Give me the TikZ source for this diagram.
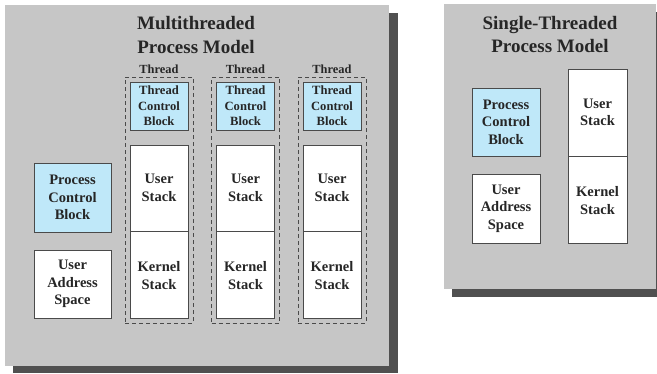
\documentclass[tikz,border=0pt]{standalone}
\usepackage{fontspec}
\setmainfont{Liberation Serif}
\definecolor{panelgray}{HTML}{C6C6C6}
\definecolor{shadowgray}{HTML}{505050}
\definecolor{linegray}{HTML}{4A4A4A}
\definecolor{pcbblue}{HTML}{BFE8F9}
\begin{document}
\begin{tikzpicture}[x=1pt, y=-1pt,
    box/.style={draw=linegray, line width=0.9pt, inner sep=0pt, align=center,
        font=\bfseries\fontsize{14.5}{17.5}\selectfont, text=black!85},
    pcbbox/.style={box, fill=pcbblue, minimum width=#1},
    membox/.style={box, fill=white, minimum width=#1},
    tcbbox/.style={box, fill=pcbblue, minimum width=58pt, minimum height=48pt,
        font=\bfseries\fontsize{12.6}{15.5}\selectfont},
    frame/.style={draw=linegray, dashed, dash pattern=on 4pt off 3pt, line width=0.7pt,
        minimum width=68pt, minimum height=246pt, inner sep=0pt},
    title/.style={align=center, font=\bfseries\fontsize{19}{23.5}\selectfont, text=black!85}]
    \useasboundingbox (0,0) rectangle (657,373);
    % multithreaded model
    \begin{scope}
        \fill[shadowgray] (13,13) rectangle (398,373);
        \fill[panelgray] (5,5) rectangle (389,366);
        \node[title] (mtitle) at (196,35) {Multithreaded\\Process Model};
        \node[pcbbox=77pt, minimum height=69pt] (mpcb) at (72.5,197.5) {Process\\Control\\Block};
        \node[membox=77pt, minimum height=68pt] (muas) at (72.5,284) {User\\Address\\Space};
        \foreach \i in {0,1,2} {
            \pgfmathsetmacro{\cx}{159+86.5*\i}
            \node[frame] (frame\i) at (\cx,200) {};
            \node[font=\bfseries\fontsize{12.4}{14}\selectfont, text=black!85] (tlabel\i) at (\cx,69) {Thread};
            \node[tcbbox] (tcb\i) at (\cx,106) {Thread\\Control\\Block};
            \node[membox=58pt, minimum height=86pt] (ustack\i) at (\cx,188) {User\\Stack};
            \node[membox=58pt, minimum height=87pt, anchor=north] (kstack\i) at (ustack\i.south) {Kernel\\Stack};
        }
    \end{scope}
    % single-threaded model
    \begin{scope}
        \fill[shadowgray] (452,12) rectangle (660,297);
        \fill[panelgray] (444,4) rectangle (656,289);
        \node[title] (stitle) at (550,34.5) {Single-Threaded\\Process Model};
        \node[pcbbox=68pt, minimum height=68pt] (spcb) at (506,122) {Process\\Control\\Block};
        \node[membox=68pt, minimum height=69pt] (suas) at (506,208.5) {User\\Address\\Space};
        \node[membox=59pt, minimum height=87pt] (sustack) at (597.5,112.5) {User\\Stack};
        \node[membox=59pt, minimum height=87pt, anchor=north] (skstack) at (sustack.south) {Kernel\\Stack};
    \end{scope}
\end{tikzpicture}
\end{document}
